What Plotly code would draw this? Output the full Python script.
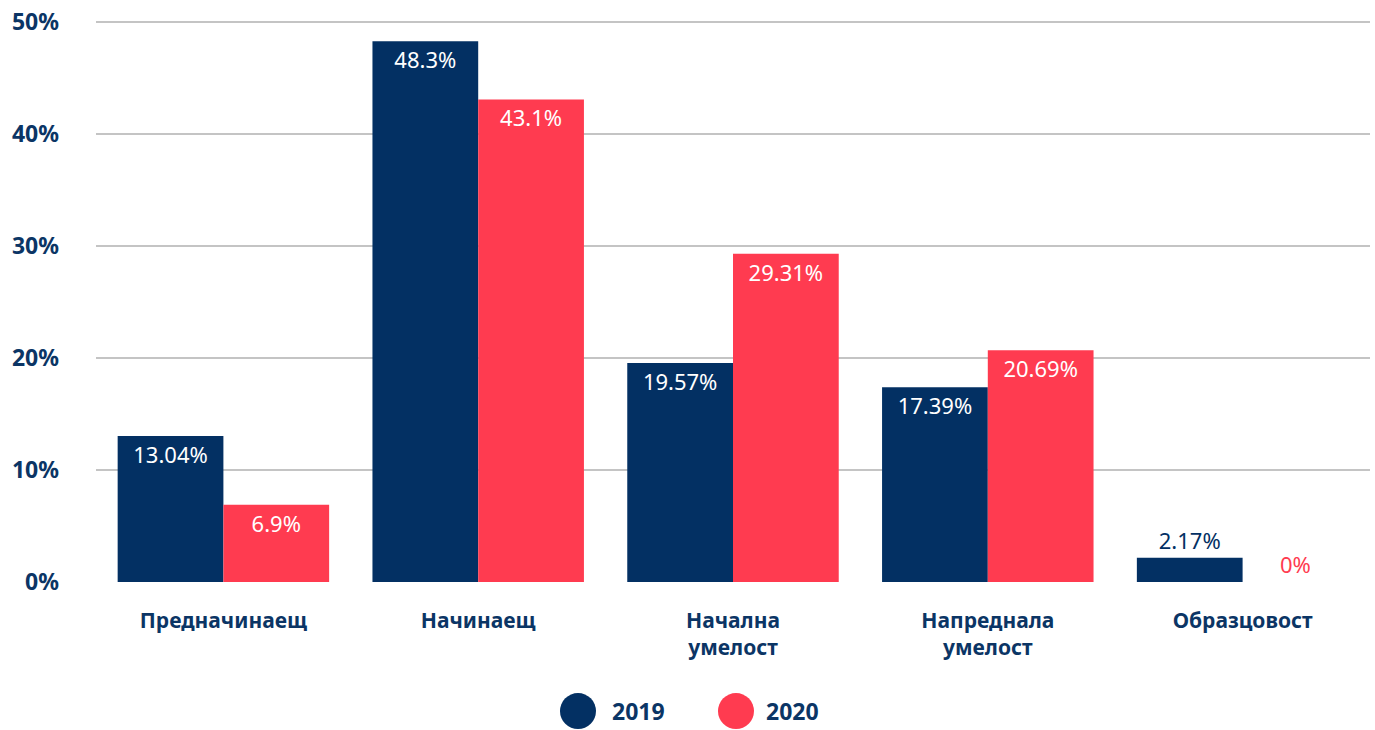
import plotly.graph_objects as go

categories = ["Предначинаещ", "Начинаещ", "Начална<br>умелост", "Напреднала<br>умелост", "Образцовост"]
series_names = ["2019", "2020"]
values_2019 = [13.04, 48.3, 19.57, 17.39, 2.17]
values_2020 = [6.9, 43.1, 29.31, 20.69, 0]
y_ticks = [0, 10, 20, 30, 40, 50]

NAVY = "#033063"
RED = "#FF3B50"
TEXT = "#0B3565"
FONT = "Noto Sans"

W, H = 1375, 730
M = dict(l=96, r=5, t=16, b=148)


def positions(vals):
    # small bars get the label above the bar
    return ["inside" if v > 5 else "outside" for v in vals]


fig = go.Figure()
for name, vals, col in [(series_names[0], values_2019, NAVY), (series_names[1], values_2020, RED)]:
    fig.add_trace(go.Bar(
        x=categories, y=vals, name=name,
        marker=dict(color=col, line=dict(width=0)),
        text=[f"{v:g}%" for v in vals],
        textposition=positions(vals),
        insidetextanchor="end",
        insidetextfont=dict(color="white", size=22, family=FONT),
        outsidetextfont=dict(color=col, size=22, family=FONT),
        cliponaxis=False,
        hovertemplate="%{x}: %{y}%<extra>" + name + "</extra>",
    ))

fig.update_layout(
    width=W, height=H, margin=M,
    plot_bgcolor="white", paper_bgcolor="white",
    barmode="group", bargap=0.17, bargroupgap=0,
    showlegend=False,
    font=dict(family=FONT, color=TEXT),
    uniformtext=dict(minsize=22, mode="show"),
)
# range a bit past 50 so the top gridline is not clipped away
fig.update_yaxes(
    range=[0, 50.2], tickvals=y_ticks, ticktext=[f"{t}%" for t in y_ticks],
    showgrid=True, gridcolor="#C4C4C4", gridwidth=2,
    zeroline=False, showline=False,
    tickfont=dict(size=23, family=FONT, color=TEXT, weight="bold"),
    ticklabelstandoff=36, ticklabeloverflow="allow",
)
fig.update_xaxes(
    showline=False, showgrid=False,
    tickfont=dict(size=21, family=FONT, color=TEXT, weight="bold"),
    ticklabelstandoff=24,
)

# legend drawn by hand: big circles + bold labels (pixel positions)
pw = W - M["l"] - M["r"]
ph = H - M["t"] - M["b"]
legend_px = [(578, 610), (736, 764)]
legend_y = 712
for (cx, tx), name, col in zip(legend_px, series_names, [NAVY, RED]):
    xp = (cx - M["l"]) / pw
    yp = (H - M["b"] - legend_y) / ph
    fig.add_shape(type="circle", xref="paper", yref="paper",
                  xsizemode="pixel", ysizemode="pixel",
                  xanchor=xp, yanchor=yp, x0=-18, x1=18, y0=-18, y1=18,
                  fillcolor=col, line=dict(width=0))
    fig.add_annotation(text=name, xref="paper", yref="paper",
                       x=(tx - M["l"]) / pw, y=yp, xanchor="left", yanchor="middle",
                       showarrow=False,
                       font=dict(size=23, family=FONT, color=TEXT, weight="bold"))

# drop the default 8px body margin so the figure fills the window
fig.write_html("out.html", config={"displayModeBar": False},
               post_script="document.body.style.margin='0px';")
